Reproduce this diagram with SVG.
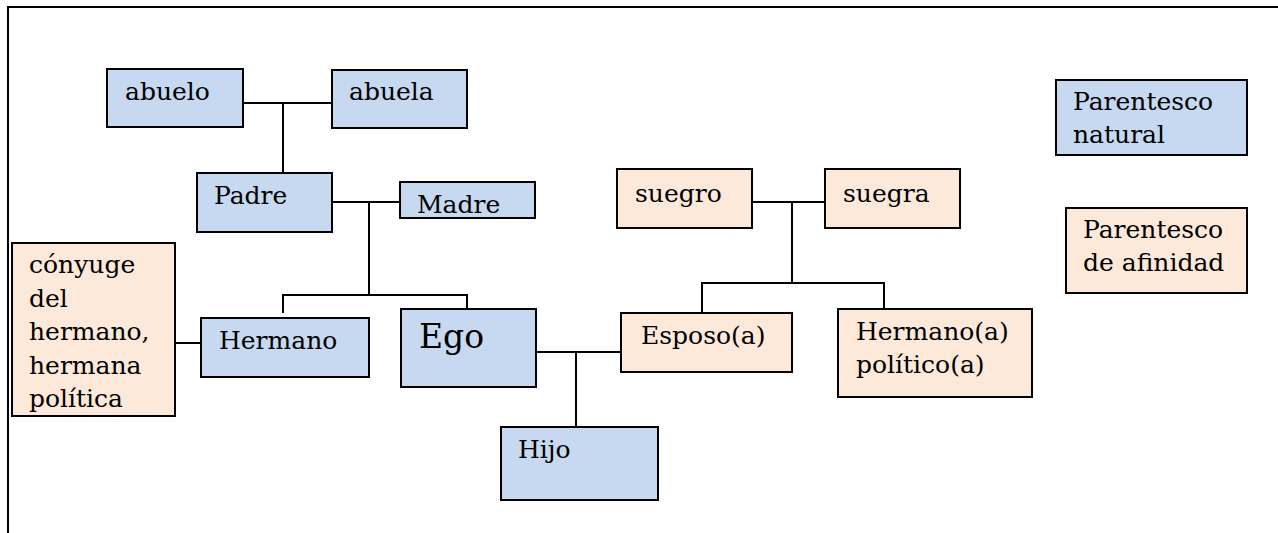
<svg xmlns="http://www.w3.org/2000/svg" width="1278" height="533" viewBox="0 0 1278 533">
<style>
.b{fill:#C6D9F0;stroke:#000;stroke-width:2}
.p{fill:#FDE9D9;stroke:#000;stroke-width:2}
.t{font-family:"DejaVu Serif","Liberation Serif",serif;font-size:25px;fill:#000}
.c{fill:none;stroke:#000;stroke-width:2}
</style>
<rect width="1278" height="533" fill="#fff"/>
<path d="M8 533 V7 H1278" fill="none" stroke="#000" stroke-width="2"/>
<g id="connectors">
<path class="c" d="M243 103 H332 M283 103 V173"/>
<path class="c" d="M332 202 H400 M369 202 V295 M283 313 V295 H467 V309"/>
<path class="c" d="M175 343 H201"/>
<path class="c" d="M536 352 H621 M576 352 V427"/>
<path class="c" d="M752 202 H825 M792 202 V283 M702 313 V283 H884 V309"/>
</g>
<g id="abuelo"><rect class="b" x="107" y="69" width="136" height="58"/><text class="t" x="125" y="100">abuelo</text></g>
<g id="abuela"><rect class="b" x="332" y="70" width="135" height="58"/><text class="t" x="349" y="100">abuela</text></g>
<g id="padre"><rect class="b" x="197" y="173" width="135" height="59"/><text class="t" x="214" y="204">Padre</text></g>
<g id="madre"><rect class="b" x="400" y="182" width="135" height="36"/><text class="t" x="417" y="213">Madre</text></g>
<g id="conyuge"><rect class="p" x="12" y="243" width="163" height="173"/><text class="t" x="29" y="273"><tspan x="29">cónyuge</tspan><tspan x="29" dy="33.5">del</tspan><tspan x="29" dy="33.5">hermano,</tspan><tspan x="29" dy="33.5">hermana</tspan><tspan x="29" dy="33.5">política</tspan></text></g>
<g id="hermano"><rect class="b" x="201" y="318" width="168" height="59"/><text class="t" x="219" y="349">Hermano</text></g>
<g id="ego"><rect class="b" x="401" y="309" width="135" height="78"/><text class="t" x="419" y="348" style="font-size:33px">Ego</text></g>
<g id="hijo"><rect class="b" x="501" y="427" width="157" height="73"/><text class="t" x="518" y="458">Hijo</text></g>
<g id="esposo"><rect class="p" x="621" y="313" width="171" height="59"/><text class="t" x="641" y="344">Esposo(a)</text></g>
<g id="hermano-politico"><rect class="p" x="838" y="309" width="194" height="88"/><text class="t" x="856" y="340"><tspan x="856">Hermano(a)</tspan><tspan x="856" dy="33">político(a)</tspan></text></g>
<g id="suegro"><rect class="p" x="617" y="169" width="135" height="59"/><text class="t" x="635" y="202">suegro</text></g>
<g id="suegra"><rect class="p" x="825" y="169" width="135" height="59"/><text class="t" x="843" y="202">suegra</text></g>
<g id="legend-natural"><rect class="b" x="1056" y="80" width="191" height="75"/><text class="t" x="1073" y="110"><tspan x="1073">Parentesco</tspan><tspan x="1073" dy="33">natural</tspan></text></g>
<g id="legend-afinidad"><rect class="p" x="1066" y="208" width="181" height="85"/><text class="t" x="1083" y="238"><tspan x="1083">Parentesco</tspan><tspan x="1083" dy="33">de afinidad</tspan></text></g>
</svg>
